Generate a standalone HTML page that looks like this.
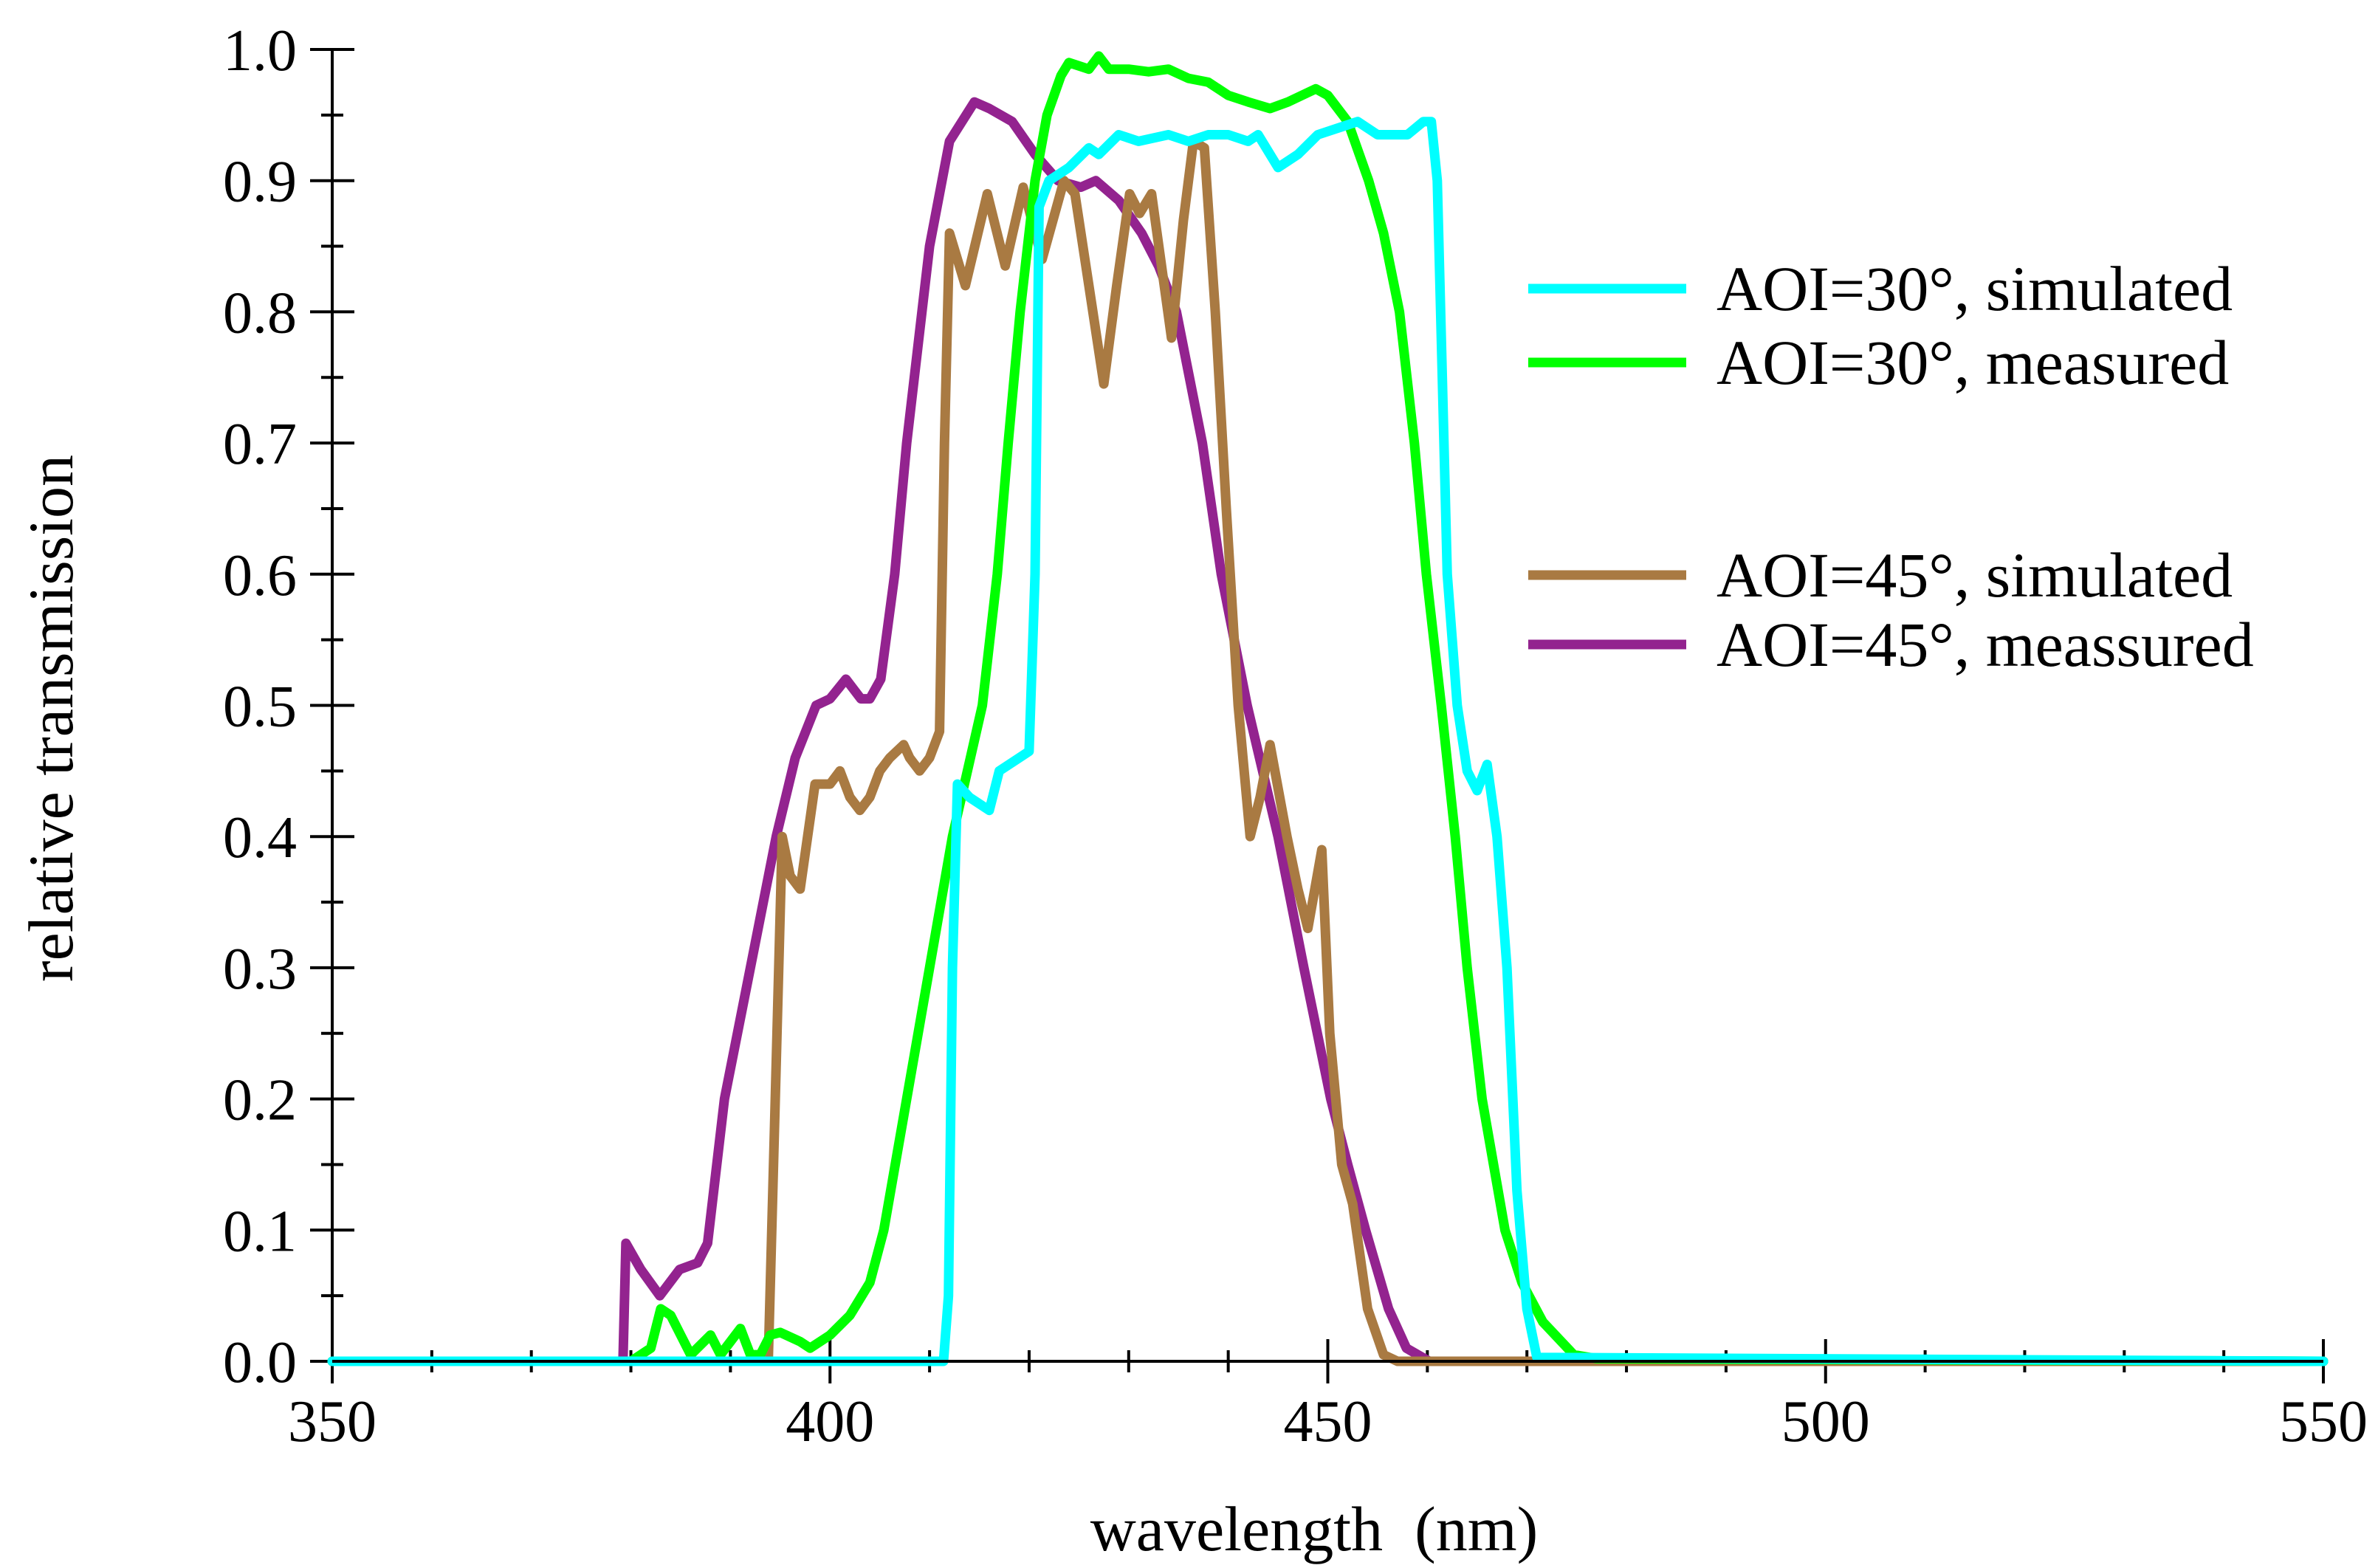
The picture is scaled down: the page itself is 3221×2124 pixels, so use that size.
<!DOCTYPE html>
<html><head><meta charset="utf-8">
<style>
html,body{margin:0;padding:0;background:#fff;}
svg{display:block;}
text{font-family:"Liberation Serif",serif;fill:#000;}
</style></head>
<body>
<svg id="chart" width="3221" height="2124" viewBox="0 0 3221 2124" xmlns="http://www.w3.org/2000/svg">
<g id="axes"></g>
<g id="series"></g>
<g id="legend"></g>
<text x="1780" y="2100" font-size="86" text-anchor="middle" xml:space="preserve">wavelength  (nm)</text>
<text x="0" y="0" font-size="86" text-anchor="middle" transform="translate(98,973) rotate(-90)">relative transmission</text>
</svg>
<script>
const xTicks=[350,400,450,500,550];
const yTicks=[0,0.1,0.2,0.3,0.4,0.5,0.6,0.7,0.8,0.9,1.0];
const yTickLabels=["0.0","0.1","0.2","0.3","0.4","0.5","0.6","0.7","0.8","0.9","1.0"];
const cyanX=[350,411.4,411.9,412.3,412.8,414,416,417,419,420,420.6,421,422,424,426,427,429,431,434,436,438,440,442,443,445,447,449,451,453,455,458,459.6,460.4,461,461.5,462,463,464,465,466,467,468,469,470,471,550];
const cyanY=[0,0,0.05,0.3,0.44,0.43,0.42,0.45,0.46,0.465,0.6,0.88,0.90,0.91,0.925,0.92,0.935,0.93,0.935,0.93,0.935,0.935,0.93,0.935,0.91,0.92,0.935,0.94,0.945,0.935,0.935,0.945,0.945,0.9,0.75,0.6,0.5,0.45,0.435,0.455,0.4,0.3,0.13,0.04,0.003,0];
const greenX=[350,380,382,383,384,385,386,388,389,391,392,393,394,395,397,398,400,402,404,405.4,407.7,410,412.3,415.3,416.8,417.9,419.1,420.6,421.8,423.2,424,426,427,428,430,432,434,436,438,440,442,444.2,446,448.8,450,452,454.1,455.6,457.2,458.7,459.9,461.4,462.8,464,465.5,467.8,469.5,471.6,474.7,477,550];
const greenY=[0,0,0.01,0.04,0.035,0.02,0.005,0.02,0.005,0.025,0.005,0.005,0.02,0.022,0.015,0.01,0.02,0.035,0.06,0.1,0.2,0.3,0.4,0.5,0.6,0.7,0.8,0.9,0.95,0.98,0.99,0.985,0.995,0.985,0.985,0.983,0.985,0.978,0.975,0.965,0.96,0.955,0.96,0.97,0.965,0.945,0.9,0.86,0.8,0.7,0.6,0.5,0.4,0.3,0.2,0.1,0.06,0.03,0.005,0.002,0];
const brownX=[350,393.8,394.5,395.2,396,397,398.5,400,401,402,403,404,405,406,407.4,408,409,410,411,411.5,412,413.6,415.8,417.6,419.4,421.3,423.5,424.6,426,427.5,428.8,430.1,431.1,432.3,434.3,435.5,436.5,437.6,438.7,439.8,441,442.2,443.2,444.2,445.9,447,448,449.4,450.2,451.4,452.5,454,455.6,457,550];
const brownY=[0,0,0.2,0.4,0.37,0.36,0.44,0.44,0.45,0.43,0.42,0.43,0.45,0.46,0.47,0.46,0.45,0.46,0.48,0.7,0.86,0.82,0.89,0.835,0.895,0.84,0.9,0.89,0.82,0.745,0.82,0.89,0.875,0.89,0.78,0.87,0.93,0.925,0.8,0.65,0.5,0.4,0.43,0.47,0.4,0.36,0.33,0.39,0.25,0.15,0.12,0.04,0.005,0,0];
const purpleX=[350,379.2,379.5,381,382.9,384.9,386.7,387.7,389.4,392,394.6,396.5,398.6,400,401.6,403.1,404,405.1,406.5,407.7,410,412,414.5,416,418.3,420.6,422.9,425.2,426.7,429,431.3,433,434.8,437.4,439.3,441.9,445,447.6,450.3,452,453.8,456.1,457.9,460.2,550];
const purpleY=[0,0,0.09,0.07,0.05,0.07,0.075,0.09,0.2,0.3,0.4,0.46,0.5,0.505,0.52,0.505,0.505,0.52,0.6,0.7,0.85,0.93,0.96,0.955,0.945,0.92,0.9,0.895,0.9,0.885,0.86,0.835,0.8,0.7,0.6,0.5,0.4,0.3,0.2,0.15,0.1,0.04,0.01,0,0];

const X0=450,X1=3147,Y0=1844,Y1=67;
function sx(v){return X0+(v-350)/(550-350)*(X1-X0);}
function sy(v){return Y0-v*(Y0-Y1);}
const NS="http://www.w3.org/2000/svg";
function mk(tag,parent,attrs){const e=document.createElementNS(NS,tag);for(const k in attrs)e.setAttribute(k,attrs[k]);parent.appendChild(e);return e;}
const axes=document.getElementById('axes');
let a=mk('line',axes,{x1:X0,y1:Y0,x2:X1,y2:Y0,stroke:'#000','stroke-width':4});


a=mk('line',axes,{x1:X0,y1:Y0+30,x2:X0,y2:Y1,stroke:'#000','stroke-width':4});


for(let v=350;v<=550;v+=10){
  const major=(v%50===0);
  const t=mk('line',axes,{x1:sx(v),x2:sx(v),y1:major?Y0-30:Y0-15,y2:major?Y0+30:Y0+15,stroke:'#000','stroke-width':4});
  
  
}
xTicks.forEach(v=>{
  const t=mk('text',axes,{x:sx(v),y:Y0+108,'font-size':80,'text-anchor':'middle'});
  t.textContent=String(v);
  
  
});
for(let i=0;i<=20;i++){
  const v=i*0.05;const major=(i%2===0);
  const t=mk('line',axes,{x1:major?X0-30:X0-15,x2:major?X0+30:X0+15,y1:sy(v),y2:sy(v),stroke:'#000','stroke-width':4});
  
  
}
yTicks.forEach((v,i)=>{
  const t=mk('text',axes,{x:X0-48,y:sy(v)+28,'font-size':80,'text-anchor':'end'});
  t.textContent=yTickLabels[i];
  
  
});
const ser=document.getElementById('series');
function line(xs,ys,color,name){
  const pts=xs.map((x,i)=>sx(x).toFixed(1)+','+sy(ys[i]).toFixed(1)).join(' ');
  const p=mk('polyline',ser,{points:pts,fill:'none',stroke:color,'stroke-width':13,'stroke-linejoin':'round','stroke-linecap':'round'});
  
  
}
line(purpleX,purpleY,'#93238f','aoi45-measured-line');
line(brownX,brownY,'#a97a42','aoi45-simulated-line');
line(greenX,greenY,'#00ff00','aoi30-measured-line');
line(cyanX,cyanY,'#00ffff','aoi30-simulated-line');
a=mk('line',ser,{x1:X0,y1:Y0,x2:X1,y2:Y0,stroke:'#000','stroke-width':4});


const leg=document.getElementById('legend');
const legItems=[["AOI=30°, simulated","#00ffff",391],["AOI=30°, measured","#00ff00",491],["AOI=45°, simulated","#a97a42",779],["AOI=45°, meassured","#93238f",873]];
legItems.forEach(it=>{
  const g=mk('g',leg,{});
  
  
  const l=mk('line',g,{x1:2070,x2:2284,y1:it[2],y2:it[2],stroke:it[1],'stroke-width':13});
  
  
  const t=mk('text',g,{x:2325,y:it[2]+29,'font-size':86});
  t.textContent=it[0];
  
  
});
</script>
</body></html>
